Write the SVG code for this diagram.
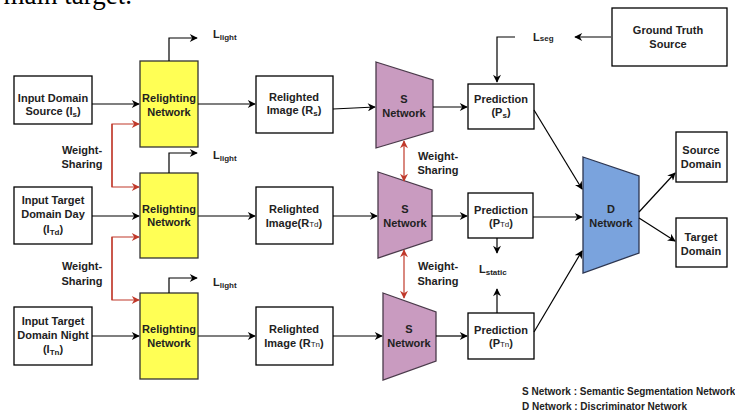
<svg xmlns="http://www.w3.org/2000/svg" width="735" height="412" viewBox="0 0 735 412">
<defs>
<marker id="ah" viewBox="0 0 10 10" refX="9" refY="5" markerWidth="9" markerHeight="8" orient="auto" markerUnits="userSpaceOnUse"><path d="M0,0 L10,5 L0,10 L3,5 z" fill="#000"/></marker>
<marker id="ahr" viewBox="0 0 10 10" refX="9" refY="5" markerWidth="9" markerHeight="8" orient="auto" markerUnits="userSpaceOnUse"><path d="M0,0 L10,5 L0,10 L3,5 z" fill="#c0392b"/></marker>
<marker id="ahrs" viewBox="0 0 10 10" refX="1" refY="5" markerWidth="9" markerHeight="8" orient="auto" markerUnits="userSpaceOnUse"><path d="M10,0 L0,5 L10,10 L7,5 z" fill="#c0392b"/></marker>
</defs>
<style>
text{font-family:"Liberation Sans",Arial,sans-serif;font-weight:bold;font-size:11px;fill:#222;text-anchor:middle}
.box{fill:#fff;stroke:#000;stroke-width:1.3}
.relight{fill:#ffff55;stroke:#333;stroke-width:1.3}
.snet{fill:#c99bc0;stroke:#4a3a4a;stroke-width:1.3}
.dnet{fill:#7aa3dd;stroke:#2c3550;stroke-width:1.3}
.c{fill:none;stroke:#000;stroke-width:1.2}
.cr{fill:none;stroke:#c0392b;stroke-width:1.2}
.sub{font-size:8px}
.lbl{text-anchor:start}
.lg{text-anchor:start;font-size:10px}
.top{font-family:"Liberation Serif","Times New Roman",serif;font-weight:normal;font-size:27px;fill:#000;text-anchor:end}
</style>
<text class="top" x="132" y="4">main target.</text>

<g id="input-source"><rect class="box" x="14" y="76" width="78" height="48"/><text x="53" y="102">Input Domain</text><text x="53" y="115">Source (I<tspan class="sub" dy="2">s</tspan><tspan dy="-2">)</tspan></text></g>
<g id="input-day"><rect class="box" x="14" y="187" width="78" height="57"/><text x="53" y="204">Input Target</text><text x="53" y="218">Domain Day</text><text x="53" y="233">(I<tspan class="sub" dy="2">Td</tspan><tspan dy="-2">)</tspan></text></g>
<g id="input-night"><rect class="box" x="14" y="307" width="78" height="58"/><text x="53" y="325">Input Target</text><text x="53" y="339">Domain Night</text><text x="53" y="353">(I<tspan class="sub" dy="2">Tn</tspan><tspan dy="-2">)</tspan></text></g>

<g id="relight1"><rect class="relight" x="140" y="61" width="58" height="86"/><text x="169" y="102">Relighting</text><text x="169" y="116">Network</text></g>
<g id="relight2"><rect class="relight" x="140" y="173" width="58" height="85"/><text x="169" y="213">Relighting</text><text x="169" y="226">Network</text></g>
<g id="relight3"><rect class="relight" x="140" y="293" width="58" height="86"/><text x="169" y="333">Relighting</text><text x="169" y="347">Network</text></g>

<g id="relighted1"><rect class="box" x="256" y="76" width="77" height="57"/><text x="294" y="101">Relighted</text><text x="294" y="114">Image (R<tspan class="sub" dy="2">s</tspan><tspan dy="-2">)</tspan></text></g>
<g id="relighted2"><rect class="box" x="256" y="187" width="77" height="57"/><text x="294" y="213">Relighted</text><text x="294" y="227">Image(R<tspan class="sub" font-weight="normal">Td</tspan>)</text></g>
<g id="relighted3"><rect class="box" x="256" y="307" width="77" height="58"/><text x="294" y="333">Relighted</text><text x="294" y="347">Image (R<tspan class="sub" font-weight="normal">Tn</tspan>)</text></g>

<g id="snet1"><path class="snet" d="M376,62 L433,80 L433,131 L376,148 Z"/><text x="404" y="103">S</text><text x="404" y="117">Network</text></g>
<g id="snet2"><path class="snet" d="M378,172 L432,190 L432,240 L378,258 Z"/><text x="405" y="213">S</text><text x="405" y="227">Network</text></g>
<g id="snet3"><path class="snet" d="M383,293 L436,312 L436,361 L383,380 Z"/><text x="409" y="333">S</text><text x="409" y="347">Network</text></g>

<g id="pred1"><rect class="box" x="468" y="84" width="66" height="45"/><text x="501" y="103">Prediction</text><text x="501" y="116">(P<tspan class="sub" dy="2">s</tspan><tspan dy="-2">)</tspan></text></g>
<g id="pred2"><rect class="box" x="468" y="193" width="65" height="45"/><text x="501" y="214">Prediction</text><text x="501" y="227">(P<tspan class="sub" font-weight="normal">Td</tspan>)</text></g>
<g id="pred3"><rect class="box" x="468" y="313" width="66" height="46"/><text x="501" y="334">Prediction</text><text x="501" y="347">(P<tspan class="sub" font-weight="normal">Tn</tspan>)</text></g>

<g id="ground-truth"><rect class="box" x="612" y="8" width="115" height="58"/><text x="668" y="34">Ground Truth</text><text x="668" y="48">Source</text></g>

<g id="dnet"><path class="dnet" d="M583,157 L639,176 L639,253 L583,273 Z"/><text x="611" y="213">D</text><text x="611" y="227">Network</text></g>

<g id="source-domain"><rect class="box" x="676" y="132" width="51" height="50"/><text x="701" y="154">Source</text><text x="701" y="168">Domain</text></g>
<g id="target-domain"><rect class="box" x="676" y="218" width="51" height="49"/><text x="701" y="241">Target</text><text x="701" y="255">Domain</text></g>

<g id="labels">
<text class="lbl" x="213" y="38" font-size="12">L<tspan class="sub" dy="2">light</tspan></text>
<text class="lbl" x="213" y="159" font-size="12">L<tspan class="sub" dy="2">light</tspan></text>
<text class="lbl" x="213" y="286" font-size="12">L<tspan class="sub" dy="2">light</tspan></text>
<text class="lbl" x="533" y="41" font-weight="normal" font-size="11">L<tspan class="sub">seg</tspan></text>
<text class="lbl" x="479" y="273" font-size="12">L<tspan class="sub" dy="2">static</tspan></text>
<text x="82" y="154">Weight-</text><text x="82" y="168">Sharing</text>
<text x="82" y="270">Weight-</text><text x="82" y="285">Sharing</text>
<text x="438" y="160">Weight-</text><text x="438" y="174">Sharing</text>
<text x="438" y="270">Weight-</text><text x="438" y="285">Sharing</text>
<text class="lg" x="522" y="395">S Network : Semantic Segmentation Network</text>
<text class="lg" x="522" y="410">D Network : Discriminator Network</text>
</g>

<g id="connectors">
<path class="c" d="M92,104 L139,104" marker-end="url(#ah)"/>
<path class="c" d="M92,216 L139,216" marker-end="url(#ah)"/>
<path class="c" d="M92,336 L139,336" marker-end="url(#ah)"/>
<path class="c" d="M169,61 L169,38 L197,38" marker-end="url(#ah)"/>
<path class="c" d="M169,173 L169,153 L197,153" marker-end="url(#ah)"/>
<path class="c" d="M169,293 L169,278 L197,278" marker-end="url(#ah)"/>
<path class="cr" d="M112,187 L112,124 L139,124" marker-end="url(#ahr)"/>
<path class="cr" d="M112,124 L112,187 L139,187" marker-end="url(#ahr)"/>
<path class="cr" d="M112,300 L112,237 L139,237" marker-end="url(#ahr)"/>
<path class="cr" d="M112,237 L112,300 L139,300" marker-end="url(#ahr)"/>
<path class="c" d="M198,104 L255,104" marker-end="url(#ah)"/>
<path class="c" d="M198,216 L255,216" marker-end="url(#ah)"/>
<path class="c" d="M198,336 L255,336" marker-end="url(#ah)"/>
<path class="c" d="M333,109 L375,107" marker-end="url(#ah)"/>
<path class="c" d="M333,216 L377,216" marker-end="url(#ah)"/>
<path class="c" d="M333,336 L382,336" marker-end="url(#ah)"/>
<path class="c" d="M433,107 L467,107" marker-end="url(#ah)"/>
<path class="c" d="M432,216 L467,216" marker-end="url(#ah)"/>
<path class="c" d="M436,336 L467,336" marker-end="url(#ah)"/>
<path class="cr" d="M404,141 L404,181" marker-start="url(#ahrs)" marker-end="url(#ahr)"/>
<path class="cr" d="M404,250 L404,298" marker-start="url(#ahrs)" marker-end="url(#ahr)"/>
<path class="c" d="M611,37 L575,37" marker-end="url(#ah)"/>
<path class="c" d="M515,37 L497,37 L497,82" marker-end="url(#ah)"/>
<path class="c" d="M497,238 L497,253" marker-end="url(#ah)"/>
<path class="c" d="M497,313 L497,289" marker-end="url(#ah)"/>
<path class="c" d="M534,110 L582,189" marker-end="url(#ah)"/>
<path class="c" d="M533,217 L582,217" marker-end="url(#ah)"/>
<path class="c" d="M534,332 L582,251" marker-end="url(#ah)"/>
<path class="c" d="M639,212 L675,173" marker-end="url(#ah)"/>
<path class="c" d="M639,218 L675,241" marker-end="url(#ah)"/>
</g>
</svg>
